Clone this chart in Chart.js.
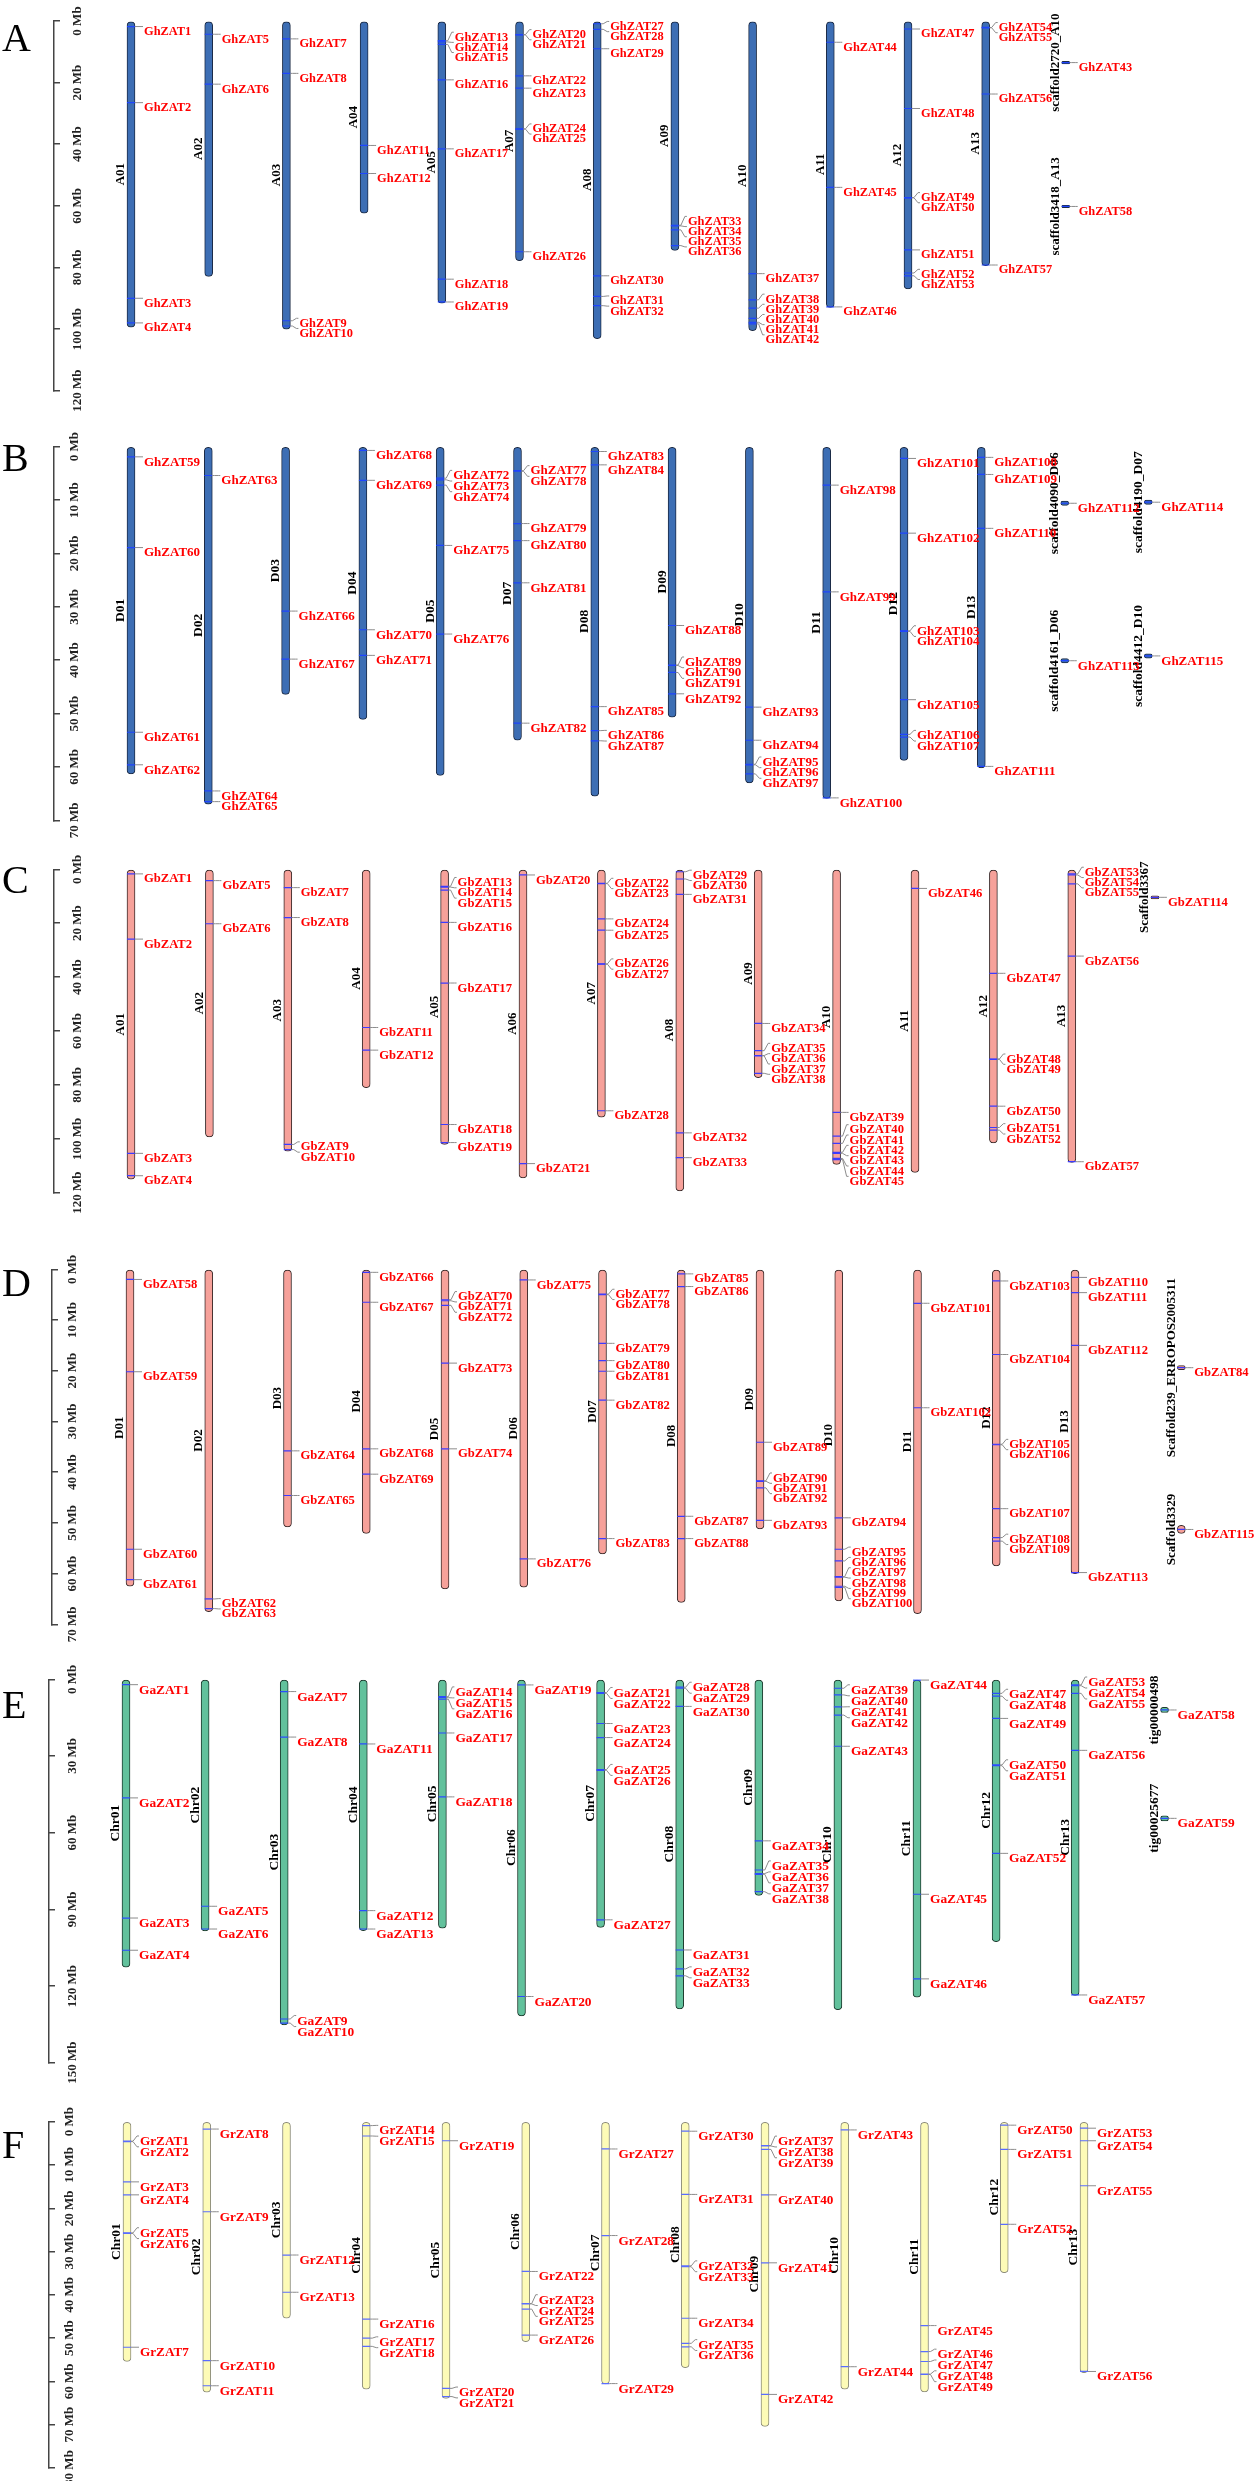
<!DOCTYPE html>
<html>
<head>
<meta charset="utf-8">
<script src="https://cdn.jsdelivr.net/npm/chart.js@4.4.1/dist/chart.umd.min.js"></script>
<style>
  body { margin: 0; background: #fff; }
  #page { position: relative; width: 1257px; height: 2481px; overflow: hidden; background: #fff; }
  canvas { position: absolute; left: 0; top: 0; }
  .tag { position: absolute; left: 2px; font: 40px "Liberation Serif", "Times New Roman", serif; line-height: 1; color: #000; }
</style>
</head>
<body>
<div id="page">
  <canvas id="panelA" width="1257" height="2481"></canvas>
  <canvas id="panelB" width="1257" height="2481"></canvas>
  <canvas id="panelC" width="1257" height="2481"></canvas>
  <canvas id="panelD" width="1257" height="2481"></canvas>
  <canvas id="panelE" width="1257" height="2481"></canvas>
  <canvas id="panelF" width="1257" height="2481"></canvas>
  <div class="tag" style="top:18px">A</div>
  <div class="tag" style="top:438px">B</div>
  <div class="tag" style="top:860px">C</div>
  <div class="tag" style="top:1263px">D</div>
  <div class="tag" style="top:1685px">E</div>
  <div class="tag" style="top:2125px">F</div>
</div>
<script>
const FONT = '"Liberation Serif", "Times New Roman", serif';

// ---- A: G. hirsutum At sub-genome ----
const chrA = ['A01','A02','A03','A04','A05','A07','A08','A09','A10','A11','A12','A13','scaffold2720_A10','scaffold3418_A13'];
const colA = [0,1,2,3,4,5,6,7,8,9,10,11,12.03,12.03];
const startA = [0,0,0,0,0,0,0,0,0,0,0,0,13.1,59.8];
const endA = [99.4,82.9,100,62.4,91.6,77.8,103.1,74.5,100.5,93,87,79.4,13.9,60.6];
const ticksA = [0,20,40,60,80,100,120];
const geneChrA = [0,0,0,0, 1,1, 2,2,2,2, 3,3, 4,4,4,4,4,4,4, 5,5,5,5,5,5,5, 6,6,6,6,6,6, 7,7,7,7, 8,8,8,8,8,8, 12, 9,9,9, 10,10,10,10,10,10,10, 11,11,11,11, 13];
const genePosA = [1.8,26.5,90,98, 4.3,20.5, 5.8,17,97.3,99, 40.4,49.5, 6.4,6.8,7.6,19.1,41.5,83.8,91.2,
  4.4,4.5,17.8,21.8,35,35.1,74.9, 0.9,2.7,9,82.7,89.4,92.4, 66.3,66.5,67.8,72.9, 82,90.5,93.2,96.5,97.8,98.3,
  13.5, 6.9,54,92.8, 2.6,28.4,57.3,57.4,74.3,81.8,82.7, 2.1,2.2,23.7,79.2, 60.2];

// ---- B: G. hirsutum Dt sub-genome ----
const chrB = ['D01','D02','D03','D04','D05','D07','D08','D09','D10','D11','D12','D13','scaffold4090_D06','scaffold4161_D06','scaffold4190_D07','scaffold4412_D10'];
const colB = [0,1,2,3,4,5,6,7,8,9,10,11,12.08,12.08,13.16,13.16];
const startB = [0,0,0,0,0,0,0,0,0,0,0,0,10.2,39.7,10.0,38.8];
const endB = [61.3,67,46.4,51.1,61.6,55,65.5,50.7,63,65.9,58.8,60.2,11.0,40.5,10.8,39.6];
const ticksB = [0,10,20,30,40,50,60,70];
const geneChrB = [0,0,0,0, 1,1,1, 2,2, 3,3,3,3, 4,4,4,4,4, 5,5,5,5,5,5, 6,6,6,6,6, 7,7,7,7,7, 8,8,8,8,8, 9,9,9, 10,10,10,10,10,10,10, 11,11,11,11, 12,13,14,15];
const genePosB = [1.9,18.9,53.5,59.6, 5.4,64.5,66.5, 30.8,39.8, 0.7,6.3,34.3,39.1, 5.9,6.2,7.2,18.5,35.1,
  4.5,4.6,14.4,17.6,25.5,51.8, 0.9,3.4,48.7,53.2,55.1, 33.5,40.9,41,42.3,46.3, 48.8,55,59.5,59.6,61.3,
  7.2,27.2,65.8, 2.2,16.2,34.5,34.6,47.4,53.9,54.4, 2,5.2,15.3,59.9, 10.6,40.1,10.4,39.2];

// ---- C: G. barbadense At sub-genome ----
const chrC = ['A01','A02','A03','A04','A05','A06','A07','A08','A09','A10','A11','A12','A13','Scaffold3367'];
const colC = [0,1,2,3,4,5,6,7,8,9,10,11,12,13.06];
const startC = [0,0,0,0,0,0,0,0,0,0,0,0,0,9.8];
const endC = [115,99.3,104.6,81,102.1,114.5,92,119.3,77.3,109.5,112.5,101.5,108.8,11.0];
const ticksC = [0,20,40,60,80,100,120];
const geneChrC = [0,0,0,0, 1,1, 2,2,2,2, 3,3, 4,4,4,4,4,4,4, 5,5, 6,6,6,6,6,6,6, 7,7,7,7,7, 8,8,8,8,8, 9,9,9,9,9,9,9, 10, 11,11,11,11,11,11, 12,12,12,12,12, 13];
const genePosC = [1.7,25.9,105.4,113.7, 4.2,20.2, 6.8,17.9,102.1,104, 58.7,67.1, 6.3,6.6,7.7,19.7,42.2,94.7,101.4,
  2.1,109.2, 5.2,5.3,18.4,22.6,35.1,35.2,89.6, 0.9,3.6,9.3,97.8,107, 57.2,67.3,69.1,69.2,75.7,
  90.2,99,101.7,105,105.4,107.3,107.7, 7.1, 38.6,70.4,70.5,87.9,95.8,96.8, 1.7,2.1,5.4,32.2,108.5, 10.4];

// ---- D: G. barbadense Dt sub-genome ----
const chrD = ['D01','D02','D03','D04','D05','D06','D07','D08','D09','D10','D11','D12','D13','Scaffold239_ERROPOS2005311','Scaffold3329'];
const colD = [0,1,2,3,4,5,6,7,8,9,10,11,12,13.35,13.35];
const startD = [0,0,0,0,0,0,0,0,0,0,0,0,0,19.0,50.5];
const endD = [62.5,67.5,50.8,52.1,63,62.7,56.1,65.7,51.2,65.4,67.9,58.5,60,19.8,52.1];
const ticksD = [0,10,20,30,40,50,60,70];
const geneChrD = [0,0,0,0, 1,1, 2,2, 3,3,3,3, 4,4,4,4,4, 5,5, 6,6,6,6,6,6,6, 13, 7,7,7,7, 8,8,8,8,8, 9,9,9,9,9,9,9, 10,10, 11,11,11,11,11,11,11, 12,12,12,12, 14];
const genePosD = [2,20.2,55.2,61.2, 65,66.9, 35.8,44.6, 0.6,6.5,35.4,40.4, 6,6.2,7.1,18.5,35.4, 2.1,57.1,
  4.9,5,14.6,18,20.1,25.8,53.1, 19.4, 0.9,3.4,48.7,53.1, 34.1,41.7,41.8,43.1,49.5,
  49,55.2,57.5,60.6,60.7,62.5,62.7, 6.7,27.3, 2.3,16.8,34.5,34.6,47.2,52.9,53.6, 1.6,4.6,15,59.8, 51.3];

// ---- E: G. arboreum ----
const chrE = ['Chr01','Chr02','Chr03','Chr04','Chr05','Chr06','Chr07','Chr08','Chr09','Chr10','Chr11','Chr12','Chr13','tig00000498','tig00025677'];
const colE = [0,1,2,3,4,5,6,7,8,9,10,11,12,13.13,13.13];
const startE = [0,0,0,0,0,0,0,0,0,0,0,0,0,11,53.4];
const endE = [112.6,98.4,135.2,98.3,97.4,131.7,97.1,129,84.6,129.3,124.4,102.6,123.7,13,55.4];
const ticksE = [0,30,60,90,120,150];
const geneChrE = [0,0,0,0, 1,1, 2,2,2,2, 3,3,3, 4,4,4,4,4, 5,5, 6,6,6,6,6,6,6, 7,7,7,7,7,7, 8,8,8,8,8, 9,9,9,9,9, 10,10,10, 11,11,11,11,11,11, 12,12,12,12,12, 13, 14];
const genePosE = [2.1,46.4,93.4,106, 88.8,97.7, 4.8,22.6,132.9,134.5, 25.3,90.5,97.7, 6.8,7.2,7.8,21,46,
  2.2,124.1, 5.2,5.5,17.3,22.8,35.3,35.6,94.1, 3.1,3.5,10.6,105.9,113.3,116, 63.2,74.6,76,76.3,83.1,
  3.5,6.1,10.8,14,26.2, 0.3,84.1,117.2, 5.5,6.6,15.3,33.5,33.8,68.1, 2.2,2.5,5.5,27.8,123.5, 12, 54.4];

// ---- F: G. raimondii ----
const chrF = ['Chr01','Chr02','Chr03','Chr04','Chr05','Chr06','Chr07','Chr08','Chr09','Chr10','Chr11','Chr12','Chr13'];
const colF = [0,1,2,3,4,5,6,7,8,9,10,11,12];
const startF = [0,0,0,0,0,0,0,0,0,0,0,0,0];
const endF = [55.4,62.5,45.4,61.8,63.9,50.8,60.6,56.8,70.4,61.8,62.4,34.9,58];
const ticksF = [0,10,20,30,40,50,60,70,80];
const geneChrF = [0,0,0,0,0,0,0, 1,1,1,1, 2,2, 3,3,3,3,3, 4,4,4, 5,5,5,5,5, 6,6,6, 7,7,7,7,7,7,7, 8,8,8,8,8,8, 9,9, 10,10,10,10,10, 11,11,11, 12,12,12,12];
const genePosF = [4.5,4.6,13.9,16.9,25.7,25.8,52.1, 1.7,20.8,55.2,61, 30.8,39.4, 0.9,3.3,45.6,50,51.9,
  4.4,61.6,63.5, 34.6,42,42.1,43.3,49.3, 6.3,26.3,60.5, 2.2,16.8,33.3,33.5,45.4,51.2,52,
  5.5,5.6,6.4,16.9,32.6,63, 1.9,56.6, 47.1,53.1,55.4,58.3,58.4, 0.8,6.4,23.7, 1.5,4.4,14.8,57.7];

// gene numbers (labels) in the same order as the positions
function seq(a, b) { const r = []; for (let i = a; i <= b; i++) r.push(i); return r; }
const geneIdA = seq(1, 58);
const geneIdB = seq(59, 115);
const geneIdC = seq(1, 57).concat([114]);
const geneIdD = seq(58, 113).concat([115]);
const geneIdE = seq(1, 59);
const geneIdF = seq(1, 56);

// push overlapping labels apart, keeping each cluster centred on its genes
function spread(want, gap) {
  let groups = want.map(y => ({ sum: y, n: 1, top: y }));
  let again = true;
  while (again) {
    again = false;
    for (let i = 0; i + 1 < groups.length; i++) {
      const a = groups[i], b = groups[i + 1];
      if (a.top + a.n * gap > b.top + 0.01) {
        const n = a.n + b.n, sum = a.sum + b.sum;
        groups.splice(i, 2, { sum: sum, n: n, top: sum / n - (n - 1) * gap / 2 });
        again = true;
        break;
      }
    }
  }
  const out = [];
  groups.forEach(g => { for (let k = 0; k < g.n; k++) out.push(g.top + k * gap); });
  return out;
}

function labelPlugin(p) {
  return {
    id: 'zatLabels',
    afterDatasetsDraw(chart) {
      const ctx = chart.ctx, xs = chart.scales.x, ys = chart.scales.y;
      ctx.save();
      // chromosome / scaffold names
      ctx.font = 'bold ' + p.nameSize + 'px ' + FONT;
      ctx.fillStyle = '#000';
      ctx.textAlign = 'center';
      ctx.textBaseline = 'middle';
      p.chr.forEach((c, i) => {
        const x = xs.getPixelForValue(p.col[i]) - 10;
        const y = ys.getPixelForValue((p.start[i] + p.end[i]) / 2);
        ctx.save();
        ctx.translate(x, y);
        ctx.rotate(-Math.PI / 2);
        ctx.fillText(c, 0, 0);
        ctx.restore();
      });
      // gene labels with connectors
      ctx.font = 'bold ' + p.labelSize + 'px ' + FONT;
      ctx.textAlign = 'left';
      ctx.textBaseline = 'alphabetic';
      ctx.lineWidth = 1;
      const gap = p.labelSize * 0.82;
      const drop = p.labelSize * 0.68;
      p.chr.forEach((c, i) => {
        const x = xs.getPixelForValue(p.col[i]);
        const idx = [];
        p.gchr.forEach((g, k) => { if (g === i) idx.push(k); });
        idx.sort((a, b) => p.gpos[a] - p.gpos[b]);
        const want = idx.map(k => ys.getPixelForValue(p.gpos[k]));
        const slot = spread(want, gap);
        idx.forEach((k, j) => {
          ctx.strokeStyle = '#8c8c8c';
          ctx.beginPath();
          ctx.moveTo(x + 4, want[j]);
          ctx.lineTo(x + 6, want[j]);
          ctx.lineTo(x + 10, slot[j]);
          ctx.lineTo(x + 12, slot[j]);
          ctx.stroke();
          ctx.fillStyle = '#ff0000';
          ctx.fillText(p.prefix + p.ids[k], x + 13, slot[j] + drop);
        });
      });
      ctx.restore();
    }
  };
}

function drawPanel(id, p) {
  const xMin = -(p.x0 - p.rulerX) / p.step;
  const xMax = xMin + (1257 - 20 - p.rulerX) / p.step;
  new Chart(document.getElementById(id), {
    type: 'bar',
    data: {
      datasets: [
        {
          type: 'scatter', order: 1,
          data: p.gpos.map((v, k) => ({ x: p.col[p.gchr[k]], y: v })),
          pointStyle: 'line', radius: 4, borderColor: p.mark, borderWidth: 1.2
        },
        {
          type: 'bar', order: 2,
          data: p.chr.map((c, i) => ({ x: p.col[i], y: [p.start[i], p.end[i]] })),
          backgroundColor: p.fill, borderColor: p.edge, borderWidth: 1,
          borderSkipped: false, borderRadius: 10, barThickness: 8
        }
      ]
    },
    options: {
      responsive: false,
      animation: false,
      events: [],
      layout: { padding: { left: p.rulerX, right: 20, top: p.top, bottom: 2481 - p.bottom } },
      plugins: { legend: { display: false }, tooltip: { enabled: false } },
      scales: {
        x: { type: 'linear', display: false, min: xMin, max: xMax, offset: false },
        y: {
          type: 'linear', min: 0, max: p.ticks[p.ticks.length - 1], reverse: true,
          afterBuildTicks: s => { s.ticks = p.ticks.map(v => ({ value: v })); },
          grid: { drawOnChartArea: false, drawTicks: true, tickLength: -6, color: '#444', lineWidth: 1.5 },
          border: { display: true, color: '#444', width: 1.5 },
          ticks: {
            mirror: true, padding: 3, minRotation: 90, maxRotation: 90, crossAlign: 'center',
            autoSkip: false, color: '#222', font: { family: FONT, size: 13, weight: 'bold' },
            callback: v => v + ' Mb'
          }
        }
      }
    },
    plugins: [labelPlugin(p)]
  });
}

drawPanel('panelA', { chr: chrA, col: colA, start: startA, end: endA, ticks: ticksA, gchr: geneChrA, gpos: genePosA, ids: geneIdA,
  prefix: 'GhZAT', fill: '#3d6eb4', edge: '#1b2a44', mark: '#1f45ff', rulerX: 54, top: 21, bottom: 390.7, x0: 131, step: 77.7,
  labelSize: 12.4, nameSize: 13 });
drawPanel('panelB', { chr: chrB, col: colB, start: startB, end: endB, ticks: ticksB, gchr: geneChrB, gpos: genePosB, ids: geneIdB,
  prefix: 'GhZAT', fill: '#3d6eb4', edge: '#1b2a44', mark: '#1f45ff', rulerX: 54, top: 446.7, bottom: 820.3, x0: 131, step: 77.3,
  labelSize: 13, nameSize: 13.5 });
drawPanel('panelC', { chr: chrC, col: colC, start: startC, end: endC, ticks: ticksC, gchr: geneChrC, gpos: genePosC, ids: geneIdC,
  prefix: 'GbZAT', fill: '#f6a19a', edge: '#3a2a2a', mark: '#3b3bff', rulerX: 54, top: 869.3, bottom: 1192.7, x0: 131, step: 78.4,
  labelSize: 12.6, nameSize: 13 });
drawPanel('panelD', { chr: chrD, col: colD, start: startD, end: endD, ticks: ticksD, gchr: geneChrD, gpos: genePosD, ids: geneIdD,
  prefix: 'GbZAT', fill: '#f6a19a', edge: '#3a2a2a', mark: '#3b3bff', rulerX: 52, top: 1269.3, bottom: 1624.3, x0: 130, step: 78.75,
  labelSize: 12.6, nameSize: 13 });
drawPanel('panelE', { chr: chrE, col: colE, start: startE, end: endE, ticks: ticksE, gchr: geneChrE, gpos: genePosE, ids: geneIdE,
  prefix: 'GaZAT', fill: '#62c19c', edge: '#1d3a2e', mark: '#2b4bff', rulerX: 49, top: 1679.3, bottom: 2062.7, x0: 126, step: 79.1,
  labelSize: 13.4, nameSize: 13.5 });
drawPanel('panelF', { chr: chrF, col: colF, start: startF, end: endF, ticks: ticksF, gchr: geneChrF, gpos: genePosF, ids: geneIdF,
  prefix: 'GrZAT', fill: '#fdfbb7', edge: '#8c8c7a', mark: '#5a6cff', rulerX: 49, top: 2121.7, bottom: 2468, x0: 127, step: 79.75,
  labelSize: 13.2, nameSize: 13.5 });
</script>
</body>
</html>
